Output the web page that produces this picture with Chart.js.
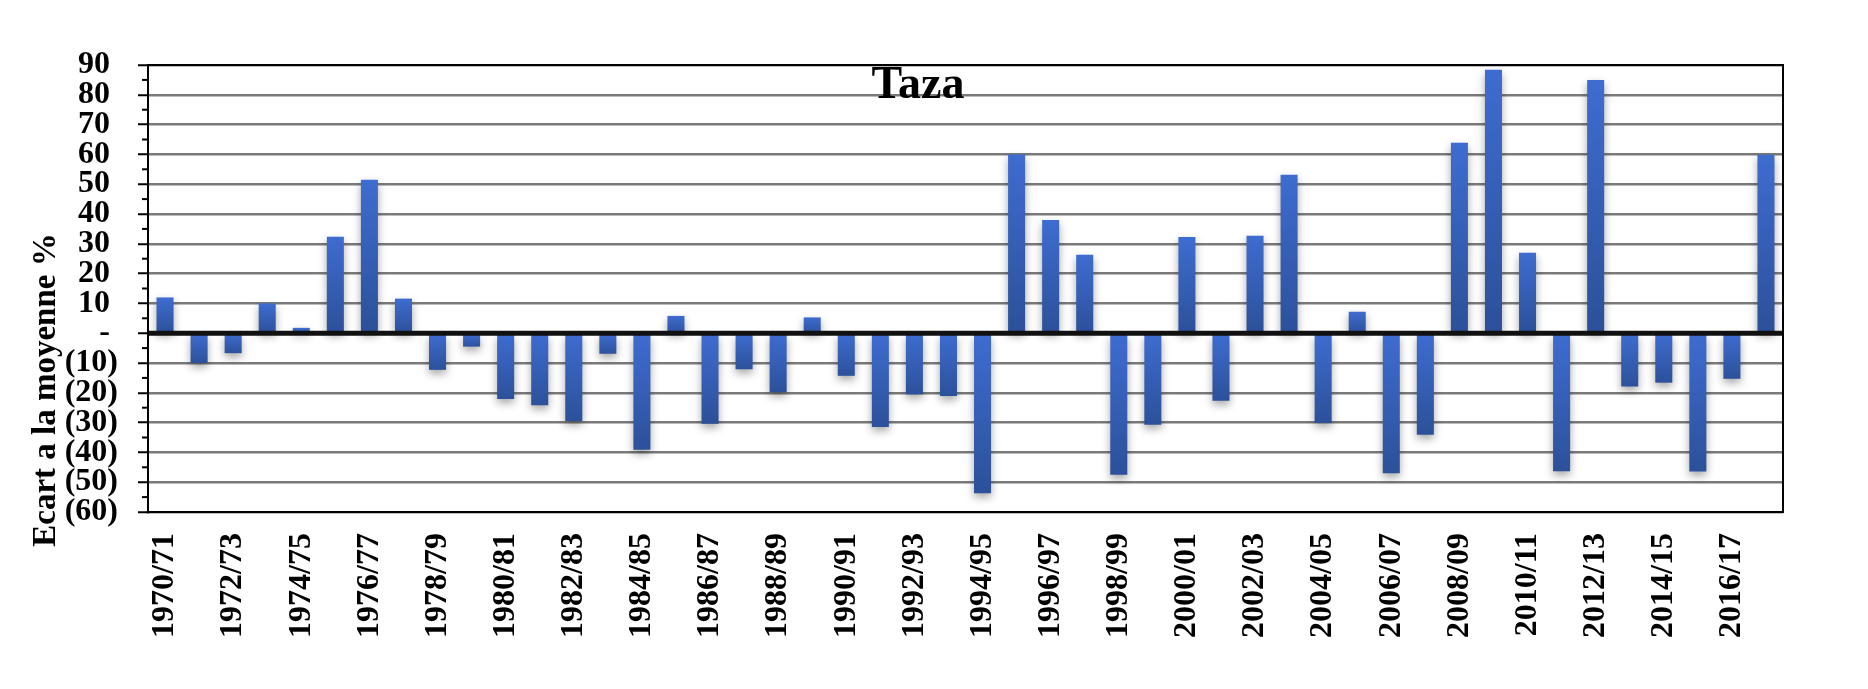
<!DOCTYPE html>
<html>
<head>
<meta charset="utf-8">
<script src="https://cdn.jsdelivr.net/npm/chart.js@4/dist/chart.umd.min.js"></script>
<style>
  html, body { margin: 0; padding: 0; background: #fff; }
</style>
</head>
<body>
<canvas id="chart" width="1868" height="689"></canvas>
<script>
// campagnes agricoles
const campagnes = [
  "1970/71", "1971/72", "1972/73", "1973/74", "1974/75", "1975/76", "1976/77", "1977/78",
  "1978/79", "1979/80", "1980/81", "1981/82", "1982/83", "1983/84", "1984/85", "1985/86",
  "1986/87", "1987/88", "1988/89", "1989/90", "1990/91", "1991/92", "1992/93", "1993/94",
  "1994/95", "1995/96", "1996/97", "1997/98", "1998/99", "1999/00", "2000/01", "2001/02",
  "2002/03", "2003/04", "2004/05", "2005/06", "2006/07", "2007/08", "2008/09", "2009/10",
  "2010/11", "2011/12", "2012/13", "2013/14", "2014/15", "2015/16", "2016/17", "2017/18"
];
// ecart a la moyenne (%)
const ecarts = [
  12, -10, -6.7, 10, 1.8, 32.4, 51.5, 11.6,
  -12.3, -4.5, -22.1, -24.2, -29.5, -6.9, -39.1, 5.8,
  -30.4, -12.1, -19.8, 5.3, -14.3, -31.5, -20.5, -21.1,
  -53.7, 60, 38, 26.3, -47.5, -30.7, 32.3, -22.7,
  32.7, 53.2, -30.1, 7.2, -47, -34.1, 63.9, 88.4,
  27, -46.3, 85, -17.9, -16.6, -46.4, -15.3, 59.9
];
const yMin = -60;
const yMax = 90;

const serif = "'Liberation Serif', 'Times New Roman', serif";

// format comptable : (10), - , 10
function formatTick(v) {
  if (v % 10 !== 0) return '';
  if (v === 0) return '- ';
  if (v < 0) return '(' + Math.abs(v) + ')';
  return v + ' ';
}

/* ombre sous les barres */
const ombre = {
  id: 'ombre',
  beforeDatasetsDraw(chart) {
    const c = chart.ctx;
    c.save();
    c.shadowColor = 'rgba(0,0,0,0.35)';
    c.shadowBlur = 8;
    c.shadowOffsetY = 4;
  },
  afterDatasetsDraw(chart) {
    chart.ctx.restore();
  }
};

/* cadre, ligne zero, petites graduations, titres */
const decor = {
  id: 'decor',
  afterDatasetsDraw(chart) {
    const c = chart.ctx;
    const a = chart.chartArea;
    const y = chart.scales.y;
    c.save();
    // ligne zero
    const y0 = y.getPixelForValue(0);
    c.strokeStyle = '#111';
    c.lineWidth = 5;
    c.beginPath();
    c.moveTo(a.left, y0);
    c.lineTo(a.right, y0);
    c.stroke();
    // cadre
    c.strokeStyle = '#000';
    c.lineWidth = 2;
    c.strokeRect(a.left, a.top, a.right - a.left, a.bottom - a.top);
    // graduations mineures
    c.lineWidth = 2;
    y.ticks.forEach(t => {
      if (t.value % 10 !== 0) {
        const py = y.getPixelForValue(t.value);
        c.beginPath();
        c.moveTo(a.left - 6, py);
        c.lineTo(a.left, py);
        c.stroke();
      }
    });
    // titre
    c.fillStyle = '#000';
    c.font = 'bold 46px ' + serif;
    c.textAlign = 'center';
    c.textBaseline = 'alphabetic';
    c.fillText('Taza', 918, 98);
    // titre axe y
    c.font = 'bold 33px ' + serif;
    c.translate(55, 390);
    c.rotate(-Math.PI / 2);
    c.fillText('Ecart a la moyenne %', 0, 0);
    c.restore();
  }
};

const data = {
  labels: campagnes,
  datasets: [{
    label: 'Taza',
    data: ecarts,
    categoryPercentage: 1,
    barPercentage: 0.5,
    backgroundColor: (ctx) => {
      const chart = ctx.chart;
      if (!chart.chartArea || ctx.type !== 'data') return '#3a62c0';
      const y = chart.scales.y;
      const v = ctx.raw;
      const top = y.getPixelForValue(Math.max(v, 0));
      const bot = y.getPixelForValue(Math.min(v, 0));
      const g = chart.ctx.createLinearGradient(0, top, 0, bot + 1);
      g.addColorStop(0, '#3e6cd0');
      g.addColorStop(1, '#2c5099');
      return g;
    },
    borderWidth: 0
  }]
};

const config = {
  type: 'bar',
  data: data,
  options: {
    responsive: false,
    animation: false,
    layout: { padding: { top: 65, right: 85, left: 0, bottom: 0 } },
    plugins: {
      legend: { display: false },
      tooltip: { enabled: false }
    },
    scales: {
      x: {
        afterFit: (s) => { s.height = 177; },
        grid: { display: false, drawTicks: false },
        border: { display: true, color: '#000', width: 2 },
        ticks: {
          autoSkip: false,
          minRotation: 90,
          maxRotation: 90,
          padding: 21,
          color: '#000',
          font: { family: serif, size: 32, weight: 'bold' },
          callback: function (v, i) { return i % 2 === 0 ? this.getLabelForValue(v) : ''; }
        }
      },
      y: {
        min: yMin,
        max: yMax,
        afterFit: (s) => { s.width = 148; },
        border: { display: true, color: '#000', width: 2 },
        grid: {
          color: (ctx) => (ctx.tick && ctx.tick.value % 10 === 0) ? '#7a7a7a' : 'rgba(0,0,0,0)',
          lineWidth: 2.5,
          tickColor: (ctx) => (ctx.tick && ctx.tick.value % 10 === 0) ? '#000' : 'rgba(0,0,0,0)',
          tickWidth: 2,
          tickLength: 10
        },
        ticks: {
          stepSize: 5,
          autoSkip: false,
          padding: 20,
          color: '#000',
          font: { family: serif, size: 32, weight: 'bold' },
          callback: (v) => formatTick(v)
        }
      }
    }
  },
  plugins: [ombre, decor]
};

const canvas = document.getElementById("chart").getContext("2d");
let chart = new Chart(canvas, config);
</script>
</body>
</html>
